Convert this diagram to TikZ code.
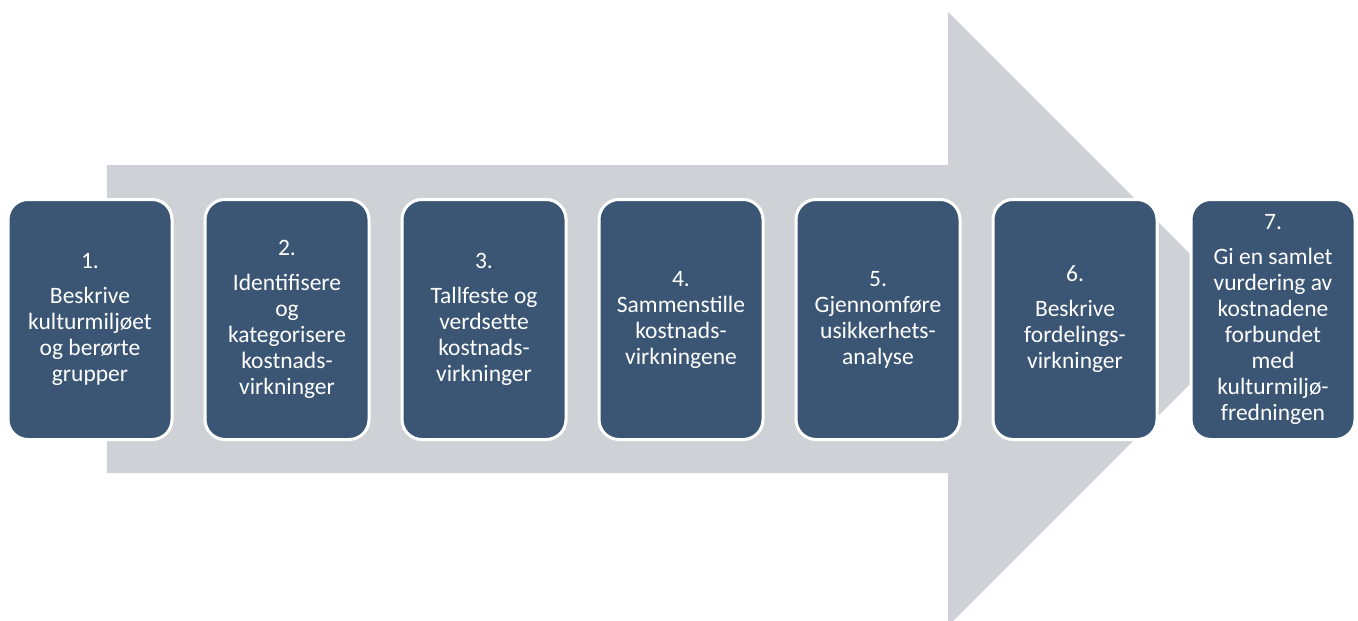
\documentclass[tikz,border=0pt]{standalone}
\usepackage{fontspec}
\setmainfont{Carlito}
\definecolor{stepblue}{RGB}{59,86,116}
\definecolor{arrowgrey}{RGB}{206,210,215}
\begin{document}
\begin{tikzpicture}[x=1pt, y=-1pt,
    phase/.style ={rectangle, rounded corners=20pt, fill=stepblue, draw=white, line width=3pt,
      minimum width=164pt, minimum height=240pt, text width=154pt, align=flush center,
      text=white, inner sep=0pt, font=\fontsize{23.5}{26}\selectfont}]
   \useasboundingbox (0,0) rectangle (1358,621);
   \begin{scope}
     \clip (0,0) rectangle (1358,621);
     \fill[arrowgrey] (107,165) -- (948,165) -- (948,12) -- (1255,319) -- (948,626)
       -- (948,473) -- (107,473) -- cycle;
   \end{scope}

   \node[phase] (P1) at (90,319.5)   {1.\\[9pt]Beskrive\\kulturmiljøet\\og berørte\\grupper};
   \node[phase] (P2) at (287,319.5)  {2.\\[9pt]Identifisere\\og\\kategorisere\\kostnads-\\virkninger};
   \node[phase] (P3) at (484,319.5)  {3.\\[9pt]Tallfeste og\\verdsette\\kostnads-\\virkninger};
   \node[phase] (P4) at (681,319.5)  {4.\\Sammenstille\\kostnads-\\virkningene};
   \node[phase] (P5) at (878,319.5)  {5.\\Gjennomføre\\usikkerhets-\\analyse};
   \node[phase] (P6) at (1075,319.5) {6.\\[9pt]Beskrive\\fordelings-\\virkninger};
   \node[phase] (P7) at (1273,319.5) {7.\\[9pt]Gi en samlet\\vurdering av\\kostnadene\\forbundet\\med\\kulturmiljø-\\fredningen};
 \end{tikzpicture}
\end{document}
